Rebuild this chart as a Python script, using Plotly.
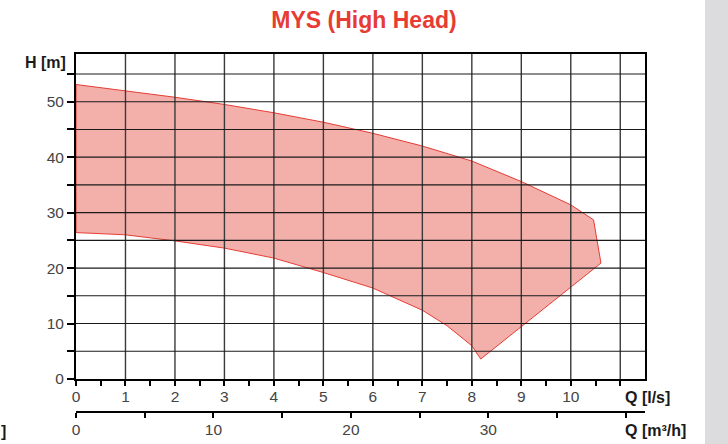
import plotly.graph_objects as go

# ---- data ----
upper_q = [0, 1, 2, 3, 4, 5, 6, 7, 8, 9, 10, 10.46]
upper_h = [53.1, 52.0, 50.8, 49.5, 48.0, 46.3, 44.3, 42.0, 39.3, 35.6, 31.4, 28.7]
edge_q = [10.61, 8.18]
edge_h = [20.9, 3.6]
lower_q = [8.0, 7.5, 7.0, 6.0, 5.0, 4.0, 3.0, 2.0, 1.0, 0.0]
lower_h = [6.0, 9.6, 12.4, 16.4, 19.2, 21.8, 23.6, 24.9, 26.0, 26.4]

ls_ticks = [0, 1, 2, 3, 4, 5, 6, 7, 8, 9, 10, 11]
ls_labels = ["0", "1", "2", "3", "4", "5", "6", "7", "8", "9", "10", ""]
ls_minor = [0.5, 1.5, 2.5, 3.5, 4.5, 5.5, 6.5, 7.5, 8.5, 9.5, 10.5]
h_ticks = [0, 10, 20, 30, 40, 50]
h_minor = [5, 15, 25, 35, 45, 55]
m3h_ticks = [0, 5, 10, 15, 20, 25, 30, 35, 40]
m3h_labels = ["0", "", "10", "", "20", "", "30", "", ""]

Q_MAX = 11.5
H_MAX = 58.6
RED = "#e63c34"
FILL = "#f3b0ab"
TICKFONT = dict(family="Liberation Sans, Arial", size=15.5, color="#444444")
LABELFONT = dict(family="Liberation Sans, Arial", size=16, color="#1a1a1a")

poly_q = upper_q + edge_q + lower_q + [upper_q[0]]
poly_h = upper_h + edge_h + lower_h + [upper_h[0]]

fig = go.Figure()
fig.add_trace(go.Scatter(
    x=poly_q, y=poly_h, fill="toself", fillcolor=FILL,
    line=dict(color=RED, width=1), mode="lines",
    hoverinfo="skip", showlegend=False))
# invisible trace carrying the m3/h axis
fig.add_trace(go.Scatter(
    x=[0, Q_MAX * 3.6], y=[0, 0], xaxis="x2", mode="markers",
    marker=dict(opacity=0), hoverinfo="skip", showlegend=False))

# grid above the filled area
shapes = []
for q in ls_ticks[1:]:
    shapes.append(dict(type="line", xref="x", yref="y", x0=q, x1=q, y0=0, y1=H_MAX,
                       line=dict(color="#3a3a3a", width=1.4), layer="above"))
for h in sorted(h_ticks[1:] + h_minor):
    shapes.append(dict(type="line", xref="x", yref="y", x0=0, x1=Q_MAX, y0=h, y1=h,
                       line=dict(color="#1a1a1a", width=1.1), layer="above"))
# grey band at right edge
shapes.append(dict(type="rect", xref="paper", yref="paper", x0=(705 - 76) / 569.0, x1=(740 - 76) / 569.0,
                   y0=-0.2, y1=1.3, fillcolor="#dcdcdf", line=dict(width=0), layer="below"))

paper_h = 444 - 54 - 20
y_dom0 = (424 - 379) / paper_h
x2_pos = (424 - 412) / paper_h

def px_x(p):
    return (p - 76) / 569.0

def px_y(p):
    return (424 - p) / paper_h

fig.update_layout(
    template="none",
    width=728, height=444,
    margin=dict(l=76, r=83, t=54, b=20, autoexpand=False),
    paper_bgcolor="white", plot_bgcolor="white",
    title=dict(text="<b>MYS (High Head)</b>", x=0.5, xref="container", xanchor="center",
               y=1 - 20 / 444, yref="container", yanchor="middle",
               font=dict(family="Liberation Sans, Arial", size=23, color=RED)),
    xaxis=dict(range=[0, Q_MAX], tickmode="array", tickvals=ls_ticks, ticktext=ls_labels,
               ticks="outside", ticklen=5, tickwidth=1.5, tickcolor="black", automargin=False,
               ticklabelstandoff=-3,
               minor=dict(tickmode="array", tickvals=ls_minor, ticks="outside", ticklen=5,
                          tickwidth=1.5, tickcolor="black", showgrid=False),
               showgrid=False, zeroline=False, showline=True, linecolor="black",
               linewidth=2, mirror=True, tickfont=TICKFONT, fixedrange=True),
    xaxis2=dict(range=[0, Q_MAX * 3.6], overlaying="x", anchor="free", position=x2_pos,
                side="bottom", tickmode="array", tickvals=m3h_ticks, ticktext=m3h_labels,
                ticks="outside", ticklen=5, tickwidth=1.5, tickcolor="black", automargin=False,
                ticklabelstandoff=-2,
                showgrid=False, zeroline=False, showline=True, linecolor="black",
                linewidth=2, tickfont=TICKFONT, fixedrange=True),
    yaxis=dict(range=[0, H_MAX], domain=[y_dom0, 1], tickmode="array", tickvals=h_ticks,
               ticks="outside", ticklen=7, tickwidth=1.5, tickcolor="black", automargin=False,
               minor=dict(tickmode="array", tickvals=h_minor, ticks="outside", ticklen=7,
                          tickwidth=1.5, tickcolor="black", showgrid=False),
               showgrid=False, zeroline=False, showline=True, linecolor="black",
               linewidth=2, mirror=True, tickfont=TICKFONT, fixedrange=True),
    shapes=shapes,
    annotations=[
        dict(text="<b>H [m]</b>", xref="paper", yref="paper", x=px_x(23), y=px_y(62),
             xanchor="left", yanchor="middle", showarrow=False, font=LABELFONT),
        dict(text="<b>Q [l/s]</b>", xref="paper", yref="paper", x=px_x(623), y=px_y(397),
             xanchor="left", yanchor="middle", showarrow=False, font=LABELFONT),
        dict(text="<b>Q [m³/h]</b>", xref="paper", yref="paper", x=px_x(623), y=px_y(430),
             xanchor="left", yanchor="middle", showarrow=False, font=LABELFONT),
        dict(text="<b>]</b>", xref="paper", yref="paper", x=px_x(-1), y=px_y(431),
             xanchor="left", yanchor="middle", showarrow=False, font=LABELFONT),
    ],
)

fig.write_html("out.html", config={"displayModeBar": False},
               post_script="document.body.style.margin='0px';document.body.style.overflow='hidden';")
